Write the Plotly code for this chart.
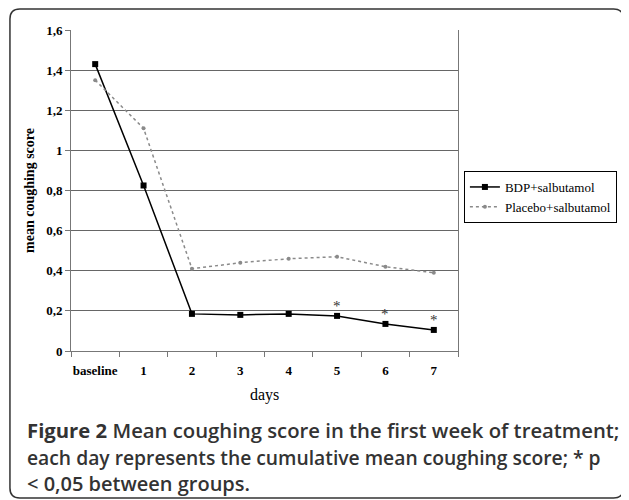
import plotly.graph_objects as go

categories = ["baseline", "1", "2", "3", "4", "5", "6", "7"]
bdp = [1.43, 0.825, 0.185, 0.18, 0.185, 0.175, 0.135, 0.105]
placebo = [1.35, 1.11, 0.41, 0.44, 0.46, 0.47, 0.42, 0.39]
signif_days = ["5", "6", "7"]
ytick_vals = [0, 0.2, 0.4, 0.6, 0.8, 1.0, 1.2, 1.4, 1.6]
ytick_text = ["0", "0,2", "0,4", "0,6", "0,8", "1", "1,2", "1,4", "1,6"]

# page body has an 8px default margin; work in reference pixels and shift
OFF = 8
W, H = 629 - OFF, 500 - OFF
L, T = 71 - OFF, 30 - OFF
pw, ph = 393, 321
R, B = W - L - pw, H - T - ph

def px(x):
    return (x - OFF - L) / pw

def py(y):
    return (T + ph - (y - OFF)) / ph

serif = "Liberation Serif, Times New Roman, serif"

fig = go.Figure()
fig.add_trace(go.Scatter(
    x=categories, y=bdp, name="BDP+salbutamol", mode="lines+markers",
    line=dict(color="black", width=1.5),
    marker=dict(symbol="square", size=6, color="black"),
))
fig.add_trace(go.Scatter(
    x=categories, y=placebo, name="Placebo+salbutamol", mode="lines+markers",
    line=dict(color="#8a8a8a", width=1.5, dash="dot"),
    marker=dict(symbol="circle", size=4, color="#8a8a8a"),
))

for d in signif_days:
    i = categories.index(d)
    fig.add_annotation(x=d, y=bdp[i], text="*", showarrow=False, yshift=10,
                       font=dict(family=serif, size=15, color="#333333"))

# outer rounded frame
x0, x1 = px(9), px(632)
y0, y1 = py(498), py(9)
rx, ry = 10 / pw, 10 / ph
path = (f"M {x0+rx},{y1} L {x1-rx},{y1} Q {x1},{y1} {x1},{y1-ry} "
        f"L {x1},{y0+ry} Q {x1},{y0} {x1-rx},{y0} L {x0+rx},{y0} "
        f"Q {x0},{y0} {x0},{y0+ry} L {x0},{y1-ry} Q {x0},{y1} {x0+rx},{y1} Z")
fig.add_shape(type="path", path=path, xref="paper", yref="paper",
              line=dict(color="#333", width=1.5))

cap_lines = [
    ("<b>Figure 2</b> Mean coughing score in the first week of treatment;", 430, 20.3),
    ("each day represents the cumulative mean coughing score; * p", 457, 19.3),
    ("< 0,05 between groups.", 483, 20),
]
for t, yy, fs in cap_lines:
    fig.add_annotation(text=t, xref="paper", yref="paper", x=px(24), y=py(yy),
                       xanchor="left", yanchor="middle", showarrow=False,
                       font=dict(family="Open Sans, sans-serif", size=fs,
                                 color="#333", weight=600))

fig.add_annotation(text="days", xref="paper", yref="paper", x=px(267), y=py(395),
                   xanchor="center", yanchor="middle",
                   showarrow=False, font=dict(family=serif, size=16, color="black"))

fig.update_layout(
    width=W, height=H,
    margin=dict(l=L, r=R, t=T, b=B),
    paper_bgcolor="white", plot_bgcolor="white",
    showlegend=True,
    legend=dict(x=px(470), y=py(171), xanchor="left", yanchor="top",
                bordercolor="black", borderwidth=1, bgcolor="white",
                font=dict(family=serif, size=13, color="black"),
                tracegroupgap=0, itemwidth=30),
    xaxis=dict(type="category", categoryorder="array", categoryarray=categories,
               tickson="boundaries", ticks="outside", ticklen=5, tickcolor="#777",
               tickangle=0, ticklabelstandoff=7,
               showgrid=False, showline=True, linecolor="#777", linewidth=1,
               tickfont=dict(family=serif, size=13, color="black", weight="bold"),
               range=[-0.5, 7.5]),
    yaxis=dict(range=[0, 1.6], tickvals=ytick_vals, ticktext=ytick_text,
               ticks="outside", ticklen=5, tickcolor="#777",
               showgrid=True, gridcolor="#666", gridwidth=1,
               showline=True, mirror=True, linecolor="#777", linewidth=1,
               zeroline=False,
               tickfont=dict(family=serif, size=13, color="black", weight="bold"),
               title=dict(text="mean coughing score", standoff=8,
                          font=dict(family=serif, size=14, color="black", weight="bold"))),
)

fig.write_html("out.html")
